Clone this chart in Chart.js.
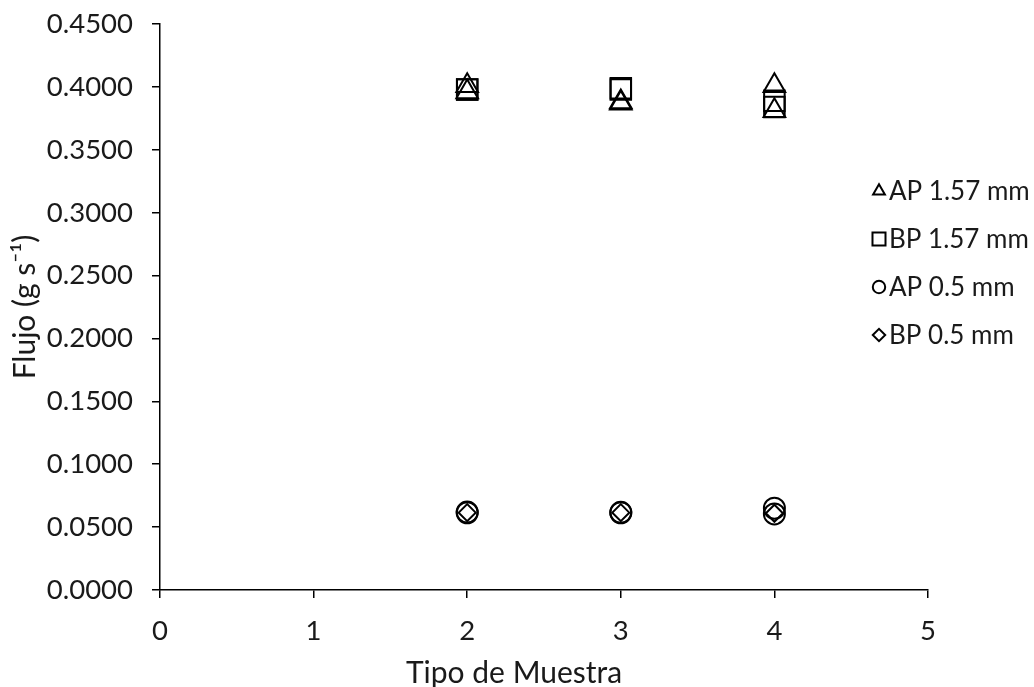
<!DOCTYPE html>
<html>
<head>
<meta charset="utf-8">
<script src="https://cdn.jsdelivr.net/npm/chart.js@4.4.1/dist/chart.umd.min.js"></script>
<style>
  html, body { margin: 0; padding: 0; background: #ffffff; }
  #wrap { width: 1034px; height: 687px; }
</style>
</head>
<body>
<div id="wrap"><canvas id="c" width="1034" height="687"></canvas></div>
<script>
// Series names
const seriesNames = ['AP 1.57 mm', 'BP 1.57 mm', 'AP 0.5 mm', 'BP 0.5 mm'];

// Flujo (g/s) per tipo de muestra, replicate readings
const xAP157 = [2, 2, 3, 3, 4, 4];
const yAP157 = [0.401, 0.396, 0.387, 0.388, 0.401, 0.381];

const xBP157 = [2, 2, 3, 3, 4, 4];
const yBP157 = [0.398, 0.398, 0.398, 0.399, 0.389, 0.384];

const xAP05 = [2, 2, 3, 3, 4, 4];
const yAP05 = [0.0614, 0.0620, 0.0614, 0.0618, 0.0650, 0.0605];

const xBP05 = [2, 3, 4];
const yBP05 = [0.0615, 0.0615, 0.0610];

// Axis ticks
const xTicks = [0, 1, 2, 3, 4, 5];
const yTicks = [0, 0.05, 0.10, 0.15, 0.20, 0.25, 0.30, 0.35, 0.40, 0.45];

const xTitle = 'Tipo de Muestra';
const yTitle = 'Flujo (g s\u207B\u00B9)';

const FONT = 'Lato, "Open Sans", "DejaVu Sans", sans-serif';
const TEXT = '#1a1a1a';

function pts(xs, ys) { return xs.map((x, i) => ({ x: x, y: ys[i] })); }

const markerStyles = [
  { pointStyle: 'triangle', radius: 12.5, legendRadius: 6.8 },
  { pointStyle: 'rect',     radius: 14.5, legendRadius: 9.2 },
  { pointStyle: 'circle',   radius: 10.5, legendRadius: 6.2 },
  { pointStyle: 'rectRot',  radius: 8.5,  legendRadius: 6.2 }
];

const seriesData = [pts(xAP157, yAP157), pts(xBP157, yBP157), pts(xAP05, yAP05), pts(xBP05, yBP05)];

const datasets = seriesNames.map((name, i) => ({
  label: name,
  data: seriesData[i],
  showLine: false,
  pointStyle: markerStyles[i].pointStyle,
  pointRadius: markerStyles[i].radius,
  pointHoverRadius: markerStyles[i].radius,
  pointBorderWidth: 2,
  pointBorderColor: '#000000',
  pointBackgroundColor: 'rgba(0,0,0,0)'
}));

// Legend to the right of the plot, plus the horizontal axis title
const sideLegend = {
  id: 'sideLegend',
  afterDraw(chart) {
    const ctx = chart.ctx;
    const markerX = 879, textX = 889, firstY = 191, gap = 48;
    chart.data.datasets.forEach((ds, i) => {
      const y = firstY + i * gap;
      ctx.save();
      ctx.strokeStyle = '#000000';
      ctx.fillStyle = 'rgba(0,0,0,0)';
      ctx.lineWidth = 2;
      Chart.helpers.drawPoint(ctx, {
        pointStyle: ds.pointStyle,
        radius: markerStyles[i].legendRadius,
        borderWidth: 2,
        rotation: 0
      }, markerX, y);
      ctx.restore();
      ctx.save();
      ctx.fillStyle = TEXT;
      ctx.font = '26px ' + FONT;
      ctx.textAlign = 'left';
      ctx.textBaseline = 'middle';
      ctx.fillText(ds.label, textX, y + 1);
      ctx.restore();
    });

    // horizontal axis title, below the tick labels
    const xs = chart.scales.x;
    ctx.save();
    ctx.fillStyle = TEXT;
    ctx.font = '30px ' + FONT;
    ctx.textAlign = 'center';
    ctx.textBaseline = 'middle';
    ctx.fillText(xTitle, xs.left + (xs.right - xs.left) * 0.461, xs.bottom - 14);
    ctx.restore();
  }
};

new Chart(document.getElementById('c'), {
  type: 'scatter',
  data: { datasets: datasets },
  plugins: [sideLegend],
  options: {
    responsive: false,
    animation: false,
    events: [],
    layout: { padding: { top: 24, right: 106, bottom: 0, left: 0 } },
    plugins: {
      legend: { display: false },
      tooltip: { enabled: false }
    },
    scales: {
      x: {
        type: 'linear',
        min: 0,
        max: 5,
        afterFit(s) { s.height = 97; s.paddingLeft = 0; s.paddingRight = 0; },
        afterBuildTicks(s) { s.ticks = xTicks.map(v => ({ value: v })); },
        ticks: {
          color: TEXT,
          font: { family: FONT, size: 27.5 },
          padding: 17,
          callback: v => String(v)
        },
        grid: { display: true, drawOnChartArea: false, drawTicks: true, tickLength: 8, color: '#000000', lineWidth: 1.5 },
        border: { display: true, color: '#000000', width: 1.5 },
        title: { display: false }
      },
      y: {
        type: 'linear',
        min: 0,
        max: 0.45,
        afterFit(s) { s.width = 160; s.paddingTop = 0; s.paddingBottom = 0; },
        afterBuildTicks(s) { s.ticks = yTicks.map(v => ({ value: v })); },
        ticks: {
          color: TEXT,
          font: { family: FONT, size: 27.5 },
          padding: 19,
          callback: v => Number(v).toFixed(4)
        },
        grid: { display: true, drawOnChartArea: false, drawTicks: true, tickLength: 8, color: '#000000', lineWidth: 1.5 },
        border: { display: true, color: '#000000', width: 1.5 },
        title: {
          display: true,
          text: yTitle,
          color: TEXT,
          font: { family: FONT, size: 30 },
          padding: { top: 7, bottom: 0 }
        }
      }
    }
  }
});
</script>
</body>
</html>
